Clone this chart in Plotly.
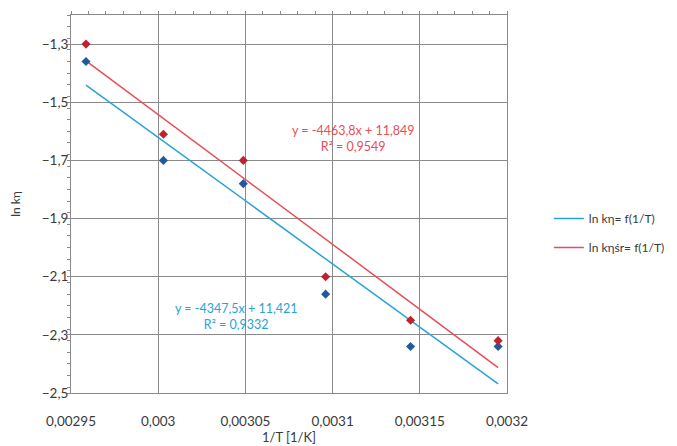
import plotly.graph_objects as go

# Data
inv_T = [0.0029586, 0.0030030, 0.0030488, 0.0030960, 0.0031447, 0.0031949]
ln_k_eta = [-1.36, -1.70, -1.78, -2.16, -2.34, -2.34]
ln_k_eta_sr = [-1.30, -1.61, -1.70, -2.10, -2.25, -2.32]

# Trendline coefficients (slope, intercept) shown on the chart
fit_eta = [-4347.5, 11.421]
fit_eta_sr = [-4463.8, 11.849]
r2_eta = "0,9332"
r2_eta_sr = "0,9549"

legend_names = ["ln kη= f(1/T)", "ln kηśr= f(1/T)"]

BLUE_MARK = "#1f5a9e"
BLUE_LINE = "#27a3d6"
RED_MARK = "#c2202c"
RED_LINE = "#e84d57"
FONT = "Lato"

x_ends = [min(inv_T), max(inv_T)]

def line_y(fit):
    return [fit[0] * x + fit[1] for x in x_ends]

fig = go.Figure()
fig.add_trace(go.Scatter(x=x_ends, y=line_y(fit_eta), mode="lines", legendgroup="a",
                         line=dict(color=BLUE_LINE, width=1.5), name=legend_names[0]))
fig.add_trace(go.Scatter(x=x_ends, y=line_y(fit_eta_sr), mode="lines", legendgroup="b",
                         line=dict(color=RED_LINE, width=1.5), name=legend_names[1]))
fig.add_trace(go.Scatter(x=inv_T, y=ln_k_eta, mode="markers", showlegend=False,
                         marker=dict(symbol="diamond", size=7, color=BLUE_MARK)))
fig.add_trace(go.Scatter(x=inv_T, y=ln_k_eta_sr, mode="markers", showlegend=False,
                         marker=dict(symbol="diamond", size=7, color=RED_MARK)))

grid = "#8a8a8a"
fig.update_layout(
    width=677, height=446,
    margin=dict(l=63, r=178, t=7, b=61, autoexpand=False),
    paper_bgcolor="white", plot_bgcolor="white",
    separators=", ",
    font=dict(family=FONT, size=13.5, color="#3a3a3a"),
    xaxis=dict(range=[0.00295, 0.0032], tick0=0.00295, dtick=0.00005, tickformat="~g",
               showgrid=True, gridcolor=grid, gridwidth=1, zeroline=False,
               showline=True, linecolor=grid, linewidth=1, mirror=True,
               ticks="outside", ticklen=16, tickcolor="rgba(0,0,0,0)", automargin=False,
               title=dict(text="1/T [1/K]", font=dict(size=13), standoff=0)),
    yaxis=dict(range=[-2.5, -1.2], tick0=-2.5, dtick=0.2, tickformat=".1f",
               showgrid=True, gridcolor=grid, gridwidth=1, zeroline=False,
               showline=True, linecolor=grid, linewidth=1, mirror=True,
               ticks="outside", ticklen=3, tickcolor=grid, automargin=False,
               ticklabelstandoff=-4,
               minor=dict(ticks="outside", ticklen=3, dtick=0.04, tickcolor=grid, showgrid=False),
               title=dict(text="ln kη", font=dict(size=12), standoff=18)),
    xaxis2=dict(range=[0.00295, 0.0032], overlaying="x", side="top", showgrid=False,
                showticklabels=False, ticks="outside", ticklen=3, tickcolor=grid,
                tick0=0.00295, dtick=0.00005, automargin=False,
                minor=dict(ticks="outside", ticklen=3, dtick=0.00001, tickcolor=grid)),
    legend=dict(x=1.096, y=0.50, xanchor="left", yanchor="top", bgcolor="rgba(0,0,0,0)",
                font=dict(size=12), tracegroupgap=10),
    annotations=[
        dict(text=f"y = {fit_eta_sr[0]:.1f}x + {fit_eta_sr[1]:.3f}".replace(".", ",")
             + f"<br>R² = {r2_eta_sr}",
             x=0.647, y=0.672, xref="paper", yref="paper", align="center",
             xanchor="center", yanchor="middle",
             showarrow=False, font=dict(color=RED_LINE, size=12.5)),
        dict(text=f"y = {fit_eta[0]:.1f}x + {fit_eta[1]:.3f}".replace(".", ",")
             + f"<br>R² = {r2_eta}",
             x=0.378, y=0.203, xref="paper", yref="paper", align="center",
             xanchor="center", yanchor="middle",
             showarrow=False, font=dict(color=BLUE_LINE, size=12.5)),
    ],
)
# invisible trace to activate the top axis
fig.add_trace(go.Scatter(x=[0.00295], y=[-2.5], xaxis="x2", mode="markers",
                         marker=dict(opacity=0), showlegend=False, hoverinfo="skip"))

fig.write_html("out.html")
